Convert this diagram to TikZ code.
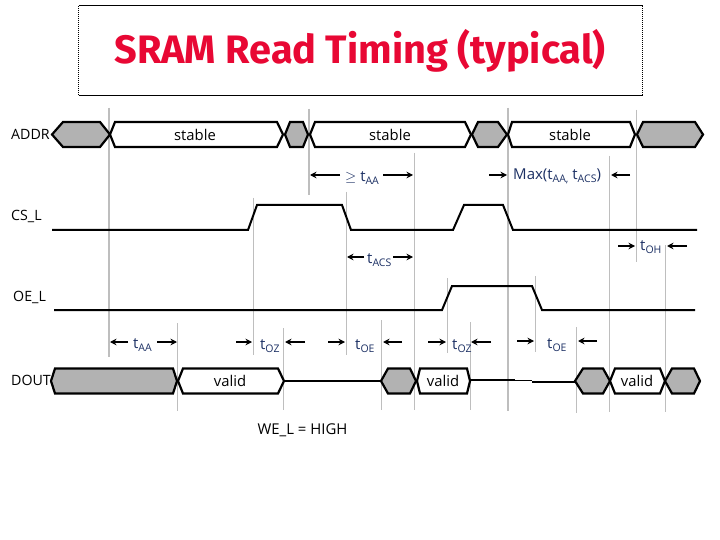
\documentclass[tikz,border=0pt]{standalone}
\usepackage{fontspec}
\setmainfont{Open Sans}
\newfontfamily\titlefont{Fira Sans}
\usetikzlibrary{arrows.meta}
\definecolor{busgray}{RGB}{178,178,178}
\definecolor{guidegray}{RGB}{190,190,190}
\definecolor{labelblue}{RGB}{28,48,100}
\definecolor{titlered}{RGB}{232,8,52}
\newcommand{\tsub}[1]{t\raisebox{-3pt}{\fontsize{10.5}{11}\selectfont #1}}
\tikzset{
	signal/.style={line width=2pt,line join=miter},
	bus/.style={line width=2.2pt,draw=black,line join=miter},
	guide/.style={draw=guidegray,line width=1pt},
	heavyguide/.style={draw=guidegray,line width=2pt},
	timing/.style={-{Stealth[length=6.5pt,width=6.5pt]},line width=1.5pt},
	sig/.style={font=\fontsize{14.2}{16}\selectfont,inner sep=0pt},
	val/.style={font=\fontsize{14.8}{16}\selectfont,inner sep=0pt},
	lab/.style={font=\fontsize{15}{17}\selectfont,text=labelblue,inner sep=0pt},
}
\begin{document}
\begin{tikzpicture}[x=1pt,y=-1pt]
		\useasboundingbox (0,0) rectangle (720,540);
		\fill[white] (0,0) rectangle (720,540);
		\node[inner sep=0pt,text=titlered] (title) at (360,51) {\titlefont\bfseries\fontsize{39.7}{42}\selectfont SRAM Read Timing (typical)};
		\coordinate (boxa) at (78.5,6);
		\coordinate (boxb) at (642.5,6);
		\coordinate (boxc) at (642.5,96);
		\coordinate (boxd) at (78.5,96);
		\draw[line width=1pt] (boxd) -- (boxc);
		\draw[line width=1pt] (boxb) -- (boxa);
		\draw[line width=1pt,densely dotted] (boxa) -- (boxd);
		\draw[line width=1pt,densely dotted] (boxb) -- (boxc);
		\foreach \x/\ya/\yb in {253/198/355,346.5/192/355,414/153/410,609.5/156/412,636/110/262,665/245/412,177.5/323/411,283/328/410,381.5/320/410,447/278/353,470/322/410,535.5/276/352,576/327/413}
			\draw[guide] (\x,\ya) -- (\x,\yb);
		\draw[heavyguide] (109,108) -- (109,357);
		\draw[heavyguide] (308.5,109) -- (308.5,195);
		\draw[heavyguide] (508,108) -- (508,411);
		\foreach \xa/\xb/\xc/\xd/\ym/\kind in {
			52/63/100/110/134.5/busgray,110/115/277/283/134.5/white,285/290/303/308/134.5/busgray,310/315/465/471/134.5/white,472/478/498/507/134.5/busgray,508/512/630/635/134.5/white,637/643/695/703/134.5/busgray,
			51/55/173/177/381/busgray,178/183/278/284/381/white,381/388/410/416/381/busgray,417/420/467/470/381/white,575/583/603/610/381/busgray,610/615/660/665/381/white,665/672/694/700/381/busgray}
			\draw[bus,fill=\kind] (\xa,\ym) -- (\xb,\ym-12.5) -- (\xc,\ym-12.5) -- (\xd,\ym) -- (\xc,\ym+12.5) -- (\xb,\ym+12.5) -- cycle;
		\draw[signal] (52,230) -- (248,230) -- (257,205) -- (342,205) -- (351,230) -- (453,230) -- (464,205) -- (503,205) -- (513,230) -- (697,230);
		\draw[signal] (54,310) -- (442,310) -- (452,286) -- (532,286) -- (542,310) -- (695,310);
		\draw[signal] (284,381) -- (381,381);
		\draw[signal] (470,380) -- (515,380);
		\draw[line width=1.4pt] (515,380.5) -- (532,380.5);
		\draw[signal] (532,382) -- (575,382);
		\node[sig,anchor=west] (addr) at (11,134) {ADDR};
		\node[sig,anchor=west] (csl) at (11,216) {CS\_L};
		\node[sig,anchor=west] (oel) at (13,297) {OE\_L};
		\node[sig,anchor=west] (dout) at (11,380) {DOUT};
		\node[val] (stablea) at (195,135) {stable};
		\node[val] (stableb) at (390,135) {stable};
		\node[val] (stablec) at (570,135) {stable};
		\node[val] (valida) at (230,381) {valid};
		\node[val] (validb) at (443,381) {valid};
		\node[val] (validc) at (637,381) {valid};
		\node[sig,font=\fontsize{14.9}{16}\selectfont] (wel) at (302.5,430) {WE\_L = HIGH};
		\node[lab,anchor=base west] (geq) at (345,182) {$\geq$ \tsub{AA}};
		\node[lab,anchor=base west] (maxt) at (513,180) {Max(\tsub{AA,} \tsub{ACS})};
		\node[lab,anchor=base west] (acs) at (367,263) {\tsub{ACS}};
		\node[lab,anchor=base west] (oh) at (640,250) {\tsub{OH}};
		\node[lab,anchor=base west] (aa) at (133,348) {\tsub{AA}};
		\node[lab,anchor=base west] (oza) at (260,349) {\tsub{OZ}};
		\node[lab,anchor=base west] (oea) at (355,349) {\tsub{OE}};
		\node[lab,anchor=base west] (ozb) at (452,349) {\tsub{OZ}};
		\node[lab,anchor=base west] (oeb) at (547,348) {\tsub{OE}};
		\foreach \name/\xa/\xb/\yy in {pa/340/310/175,pb/383/413/175,pc/489/507/175,pd/630/611/175,pe/364/347/257,pf/393/413/257,pg/618/635/246,ph/687/667/246,pi/128/110/342,pj/157/177/342,pk/236/252/342,pl/305/285/342,pm/328/345/342,pn/402/383/342,po/428/446/342,pp/491/471/342,pq/517/534/341,pr/597/578/341}
		{
			\coordinate (\name-s) at (\xa,\yy);
			\coordinate (\name-e) at (\xb,\yy);
			\draw[timing] (\name-s) -- (\name-e);
		}
		\end{tikzpicture}
\end{document}
